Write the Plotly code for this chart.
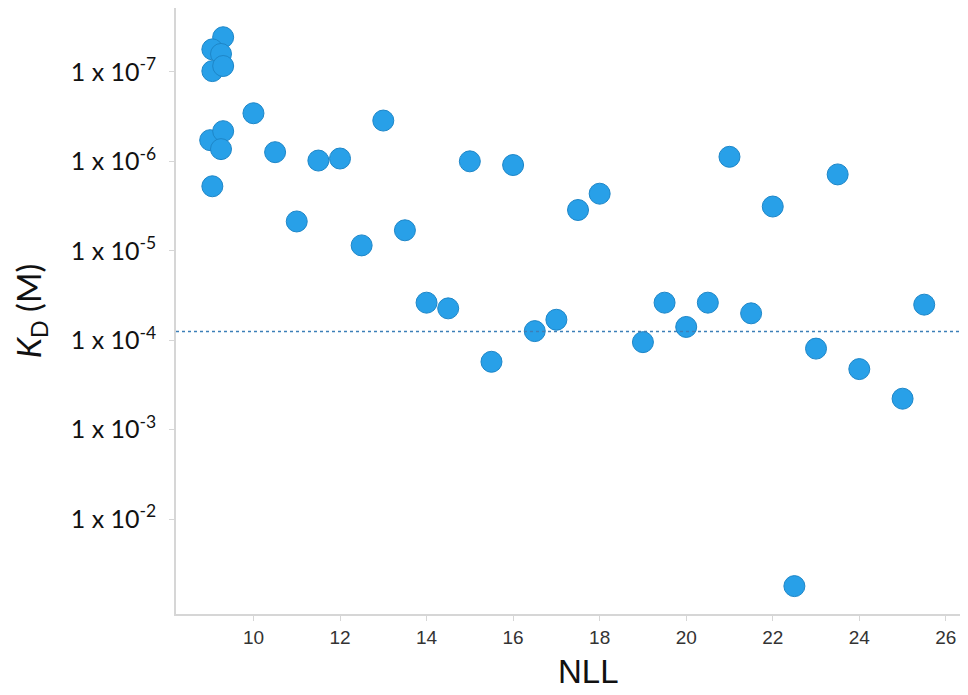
import plotly.graph_objects as go

# NLL (x) and dissociation constant KD in M (y)
nll = [9.3, 9.05, 9.25, 9.05, 9.3, 10.0, 9.0, 9.3, 9.25, 9.05,
       10.5, 11.0, 11.5, 12.0, 13.0, 12.5, 13.5, 14.0, 14.5, 15.0,
       16.0, 17.5, 18.0, 15.5, 16.5, 17.0, 19.0, 19.5, 20.0, 20.5,
       21.0, 22.0, 23.5, 21.5, 23.0, 24.0, 25.0, 25.5, 22.5]
kd = [4.1e-8, 5.6e-8, 6.3e-8, 9.8e-8, 8.6e-8, 2.9e-7, 5.8e-7, 4.6e-7, 7.3e-7, 1.9e-6,
      7.9e-7, 4.7e-6, 9.8e-7, 9.3e-7, 3.5e-7, 8.7e-6, 5.9e-6, 3.8e-5, 4.4e-5, 1.0e-6,
      1.1e-6, 3.5e-6, 2.3e-6, 1.74e-4, 7.9e-5, 5.9e-5, 1.05e-4, 3.8e-5, 7.1e-5, 3.8e-5,
      8.9e-7, 3.2e-6, 1.4e-6, 5.0e-5, 1.24e-4, 2.1e-4, 4.5e-4, 4.0e-5, 5.6e-2]

# horizontal dotted reference level
kd_cutoff = 8.0e-5

y_tickvals = [1e-7, 1e-6, 1e-5, 1e-4, 1e-3, 1e-2]
y_ticktext = ["1 x 10<sup>-7</sup>", "1 x 10<sup>-6</sup>", "1 x 10<sup>-5</sup>",
              "1 x 10<sup>-4</sup>", "1 x 10<sup>-3</sup>", "1 x 10<sup>-2</sup>"]
x_tickvals = [10, 12, 14, 16, 18, 20, 22, 24, 26]

fig = go.Figure()

fig.add_trace(go.Scatter(
    x=nll,
    y=kd,
    mode="markers",
    marker=dict(size=21, color="#28a0e8", line=dict(color="#1d86c8", width=1)),
    showlegend=False,
))

fig.add_hline(y=kd_cutoff, line=dict(color="#3c7fb8", width=1.5, dash="dot"))

# x title sits a little right of the plot centre in the original
fig.add_annotation(
    text="NLL",
    xref="paper", yref="paper",
    x=0.525, y=-0.095,
    xanchor="center", yanchor="middle",
    showarrow=False,
    font=dict(size=33, family="Liberation Sans, sans-serif", color="#111111"),
)

# page body adds an 8px margin, so the figure is a bit smaller than the window
fig.update_layout(
    width=960,
    height=687,
    paper_bgcolor="white",
    plot_bgcolor="white",
    margin=dict(l=168, r=7, t=0, b=81),
    font=dict(family="Lato, Liberation Sans, sans-serif", color="#111111"),
)

fig.update_xaxes(
    range=[8.21, 26.35],
    tickvals=x_tickvals,
    showgrid=False,
    zeroline=False,
    showline=True,
    linecolor="#d6d6d6",
    linewidth=1.5,
    ticks="outside",
    ticklen=5,
    tickcolor="#d6d6d6",
    tickfont=dict(size=19, family="Liberation Sans, sans-serif", color="#333333"),
)

fig.update_yaxes(
    type="log",
    range=[-0.94, -7.714],
    tickvals=y_tickvals,
    ticktext=y_ticktext,
    showgrid=False,
    zeroline=False,
    showline=True,
    linecolor="#d6d6d6",
    linewidth=1.5,
    ticks="outside",
    ticklen=5,
    tickcolor="#d6d6d6",
    ticklabelstandoff=8,
    tickfont=dict(size=25, family="Lato, sans-serif", color="#111111"),
    title=dict(text="<i>K</i><sub>D</sub> (M)", font=dict(size=33, family="Lato, sans-serif", color="#111111"), standoff=19),
)

fig.write_html("out.html")
